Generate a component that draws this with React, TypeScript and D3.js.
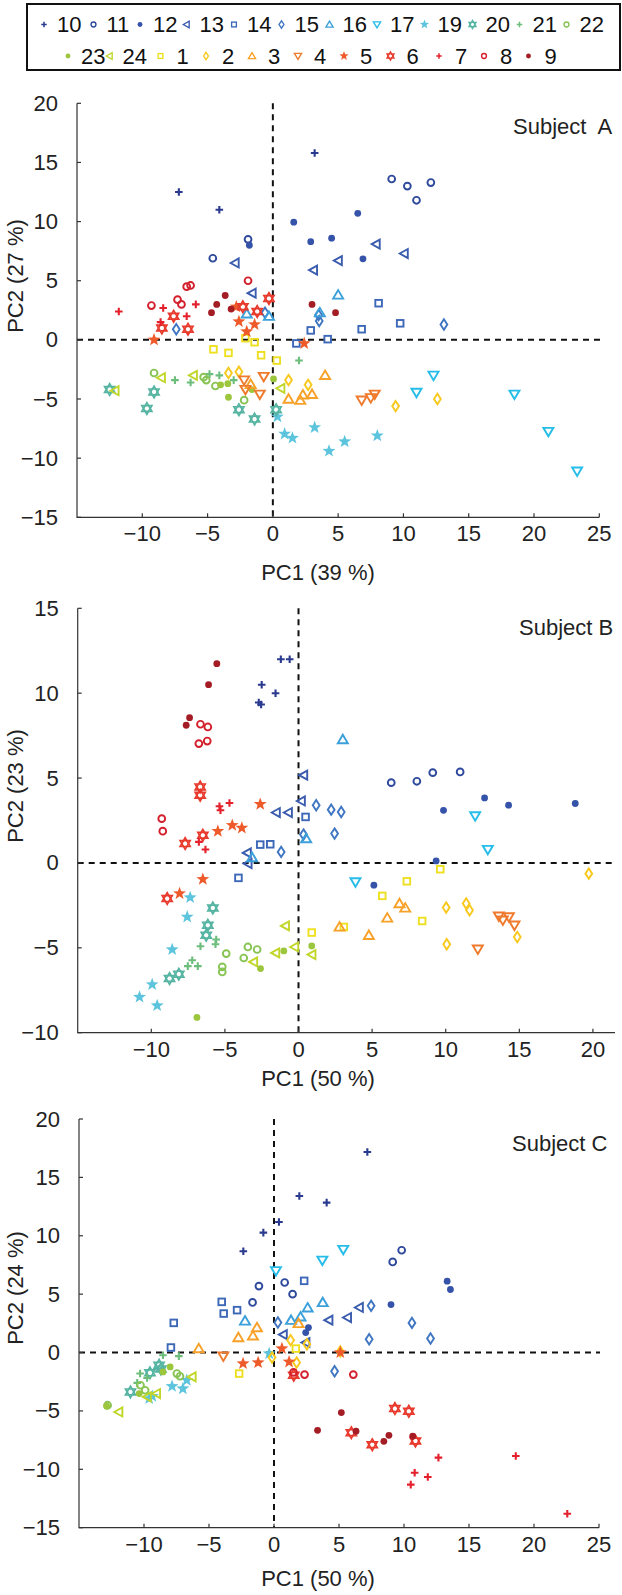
import React from "react";
import * as d3 from "d3";

// ---------- groups (legend order) ----------
const groupLabels = ["10","11","12","13","14","15","16","17","19","20","21","22","23","24","1","2","3","4","5","6","7","8","9"];
const groupShapes = ["plus","circle","dot","triLeft","square","diamond","triUp","triDown","star","hexagram",
  "plus","circle","dot","triLeft","square","diamond","triUp","triDown","star","hexagram","plus","circle","dot"];
const groupColors = ["#2a3a8f","#2f4a9c","#3553a8","#3a5cae","#3d68b8","#3f76c2","#3ba0da","#27bde9","#5cc4dc","#55b4a2",
  "#6dbd7c","#88c454","#9cc63c","#c2d62a","#eee020","#f8c81c","#f7a128","#ef7a2c","#ee5a2a","#e83a2c","#e4202c","#d4202c","#a41c24"];

// ---------- data: [group, PC1, PC2] ----------
const subjectA: [string, number, number][] = [
  ["10",-7.2,12.5],["10",-4.1,11.0],["10",3.2,15.8],
  ["11",-1.9,8.5],["11",-4.6,6.9],["11",9.1,13.6],["11",10.3,13.0],["11",12.1,13.3],["11",11.0,11.8],
  ["12",-1.8,8.0],["12",1.6,9.95],["12",2.9,8.3],["12",6.5,10.7],["12",4.5,8.6],["12",6.9,6.85],
  ["13",-2.9,6.5],["13",-1.6,3.95],["13",3.1,5.9],["13",7.9,8.1],["13",5.0,6.7],["13",10.05,7.3],
  ["14",2.9,0.8],["14",1.8,-0.3],["14",4.2,0.06],["14",6.8,0.9],["14",9.75,1.4],["14",8.1,3.1],
  ["15",-0.6,2.3],["15",-7.4,0.9],["15",3.5,2.1],["15",3.55,1.6],["15",13.1,1.3],
  ["16",-2.0,2.2],["16",-0.3,2.0],["16",5.0,3.8],["16",3.6,2.3],
  ["17",11.0,-4.45],["17",12.3,-3.0],["17",18.5,-4.6],["17",21.1,-7.75],["17",23.3,-11.1],
  ["19",0.35,-6.5],["19",0.9,-7.95],["19",1.5,-8.3],["19",3.2,-7.4],["19",4.3,-9.4],["19",5.5,-8.6],["19",8.0,-8.1],
  ["20",-12.5,-4.2],["20",-9.1,-4.4],["20",-9.65,-5.8],["20",-2.6,-5.9],["20",-1.4,-6.7],["20",0.25,-5.9],
  ["21",-7.5,-3.4],["21",-6.3,-3.6],["21",-4.85,-2.9],["21",-4.1,-3.0],["21",-3.0,-3.4],["21",2.0,-1.75],
  ["22",-9.1,-2.8],["22",-5.3,-3.15],["22",-5.1,-3.4],["22",-4.4,-3.9],["22",-2.2,-5.1],
  ["23",-4.0,-3.8],["23",-3.45,-3.7],["23",-1.6,-4.2],["23",-3.4,-4.85],["23",0.05,-3.3],
  ["24",-8.55,-3.2],["24",-6.1,-3.0],["24",-12.1,-4.3],["24",0.6,-4.1],
  ["1",-2.1,0.14],["1",-1.4,-0.2],["1",-4.55,-0.8],["1",-3.4,-1.1],["1",-0.9,-1.3],["1",0.3,-1.75],
  ["2",-3.4,-2.8],["2",-2.6,-2.7],["2",1.2,-3.4],["2",2.7,-3.8],["2",9.4,-5.6],["2",12.6,-5.0],
  ["3",-1.7,-3.75],["3",1.2,-5.0],["3",2.1,-5.1],["3",2.3,-4.65],["3",3.0,-4.6],["3",4.0,-3.0],
  ["4",-2.2,-3.4],["4",-2.1,-4.2],["4",-0.7,-3.1],["4",-1.0,-4.6],["4",6.8,-5.1],["4",7.5,-4.9],["4",7.8,-4.6],
  ["5",-9.1,0.0],["5",-2.8,2.8],["5",-2.6,1.55],["5",-1.4,1.3],["5",-2.0,0.7],["5",2.4,-0.3],
  ["6",-0.3,3.5],["6",-7.6,2.0],["6",-2.3,2.8],["6",-1.2,2.4],["6",-8.5,1.0],["6",-6.5,0.9],
  ["7",-8.4,2.7],["7",-5.9,3.0],["7",-11.8,2.4],["7",-6.6,2.0],["7",-8.6,1.5],
  ["8",-1.9,5.0],["8",-6.6,4.5],["8",-6.3,4.6],["8",-9.3,2.9],["8",-7.3,3.4],["8",-7.0,3.0],
  ["9",3.0,3.0],["9",-4.3,3.0],["9",-3.65,3.75],["9",-4.7,2.3],["9",-3.2,2.6],["9",4.8,2.3],
];

const subjectB: [string, number, number][] = [
  ["10",-1.2,12.0],["10",-0.6,12.0],["10",-2.5,10.5],["10",-1.56,10.0],["10",-2.7,9.45],["10",-2.54,9.33],
  ["11",6.3,4.73],["11",8.04,4.81],["11",9.12,5.32],["11",10.98,5.36],
  ["12",12.64,3.83],["12",9.85,3.1],["12",14.27,3.4],["12",18.8,3.5],["12",9.35,0.12],["12",5.12,-1.31],
  ["13",0.34,5.17],["13",-1.52,2.97],["13",-0.7,2.97],["13",0.18,3.65],["13",-3.49,0.59],["13",-3.44,-0.04],
  ["14",0.48,2.71],["14",-2.6,1.08],["14",-1.92,1.1],["14",-4.08,-0.88],
  ["15",1.2,3.4],["15",-1.18,0.65],["15",0.34,1.67],["15",2.22,3.14],["15",2.9,3.0],["15",2.45,1.73],
  ["16",-3.15,0.32],["16",0.52,1.44],["16",3.01,7.27],
  ["17",12.0,2.77],["17",12.86,0.79],["17",3.87,-1.12],
  ["19",-7.36,-2.04],["19",-7.56,-3.18],["19",-8.58,-5.1],["19",-9.94,-7.16],["19",-10.8,-7.9],["19",-9.6,-8.4],
  ["20",-5.82,-2.65],["20",-6.16,-3.67],["20",-6.27,-4.26],["20",-8.13,-6.55],["20",-8.76,-6.81],
  ["21",-5.59,-4.51],["21",-5.64,-4.79],["21",-6.66,-4.91],["21",-6.84,-6.08],["21",-7.22,-5.73],["21",-7.52,-6.08],
  ["22",-4.91,-5.34],["22",-3.44,-4.95],["22",-2.81,-5.1],["22",-3.72,-5.6],["22",-5.18,-6.12],["22",-5.18,-6.42],
  ["23",-2.58,-6.22],["23",-1.0,-5.18],["23",0.9,-4.89],["23",-6.9,-9.1],
  ["24",-3.06,-5.83],["24",-1.56,-5.3],["24",-0.9,-3.71],["24",-0.27,-4.95],["24",0.9,-5.4],
  ["1",0.9,-4.1],["1",9.63,-0.37],["1",7.36,-1.08],["1",5.69,-1.94],["1",8.4,-3.42],["1",3.08,-3.77],
  ["2",19.72,-0.63],["2",10.03,-2.63],["2",11.39,-2.39],["2",11.62,-2.79],["2",14.86,-4.36],["2",10.07,-4.79],
  ["3",6.86,-2.39],["3",7.25,-2.65],["3",6.03,-3.24],["3",2.79,-3.77],["3",4.78,-4.26],
  ["4",13.61,-3.14],["4",13.88,-3.37],["4",14.29,-3.18],["4",14.67,-3.67],["4",12.18,-5.08],
  ["5",-2.6,3.46],["5",-5.48,1.87],["5",-4.5,2.22],["5",-3.85,2.06],["5",-6.5,-0.96],["5",-8.08,-1.8],
  ["6",-6.68,4.48],["6",-6.68,3.99],["6",-6.5,1.63],["6",-7.7,1.14],["6",-8.92,-2.1],
  ["7",-5.37,3.34],["7",-5.3,3.1],["7",-4.69,3.53],["7",-6.77,1.24],["7",-6.32,0.79],
  ["8",-6.66,8.17],["8",-6.16,8.01],["8",-6.77,7.03],["8",-6.2,7.18],["8",-9.29,2.61],["8",-9.22,1.87],
  ["9",-5.55,11.74],["9",-6.11,10.5],["9",-7.4,8.56],["9",-7.63,8.11],
];

const subjectC: [string, number, number][] = [
  ["10",7.18,17.17],["10",1.95,13.41],["10",0.38,11.18],["10",-0.82,10.27],["10",-2.36,8.67],["10",4.05,12.84],
  ["11",9.82,8.76],["11",9.13,7.76],["11",-1.16,5.69],["11",0.82,6.0],["11",1.43,5.0],["11",-1.65,4.29],
  ["12",9.0,4.11],["12",13.32,6.11],["12",13.57,5.4],["12",2.44,1.71],["12",2.65,2.14],
  ["13",6.55,3.86],["13",5.64,3.0],["13",4.21,2.77],["13",0.7,1.54],["13",2.44,0.86],
  ["14",2.32,6.14],["14",-4.02,4.34],["14",-3.87,3.34],["14",-2.84,3.63],["14",-7.71,2.54],["14",-7.93,0.43],
  ["15",0.3,2.57],["15",7.47,4.0],["15",10.61,2.54],["15",12.04,1.2],["15",7.32,1.14],["15",4.66,-1.6],
  ["16",-2.23,2.71],["16",1.31,2.77],["16",2.04,3.06],["16",2.59,3.83],["16",3.75,4.29],
  ["17",0.15,7.0],["17",5.33,8.82],["17",3.72,7.9],
  ["19",-0.37,-0.09],["19",-7.84,-2.89],["19",-7.01,-3.09],["19",-9.6,-3.94],["19",-9.36,-3.74],["19",-6.71,-2.37],
  ["20",-8.84,-1.09],["20",-9.54,-1.74],["20",-11.04,-3.37],["20",-8.7,-1.4],
  ["21",-8.54,-0.23],["21",-7.32,-0.31],["21",-10.3,-1.8],["21",-9.76,-2.17],["21",-10.52,-2.6],
  ["22",-7.47,-1.8],["22",-7.23,-2.03],["22",-9.91,-3.23],["22",-10.27,-2.8],["22",-12.8,-4.51],
  ["23",-7.99,-1.23],["23",-8.54,-1.66],["23",-12.87,-4.6],["23",-10.37,-3.51],
  ["24",-6.31,-2.09],["24",-9.05,-3.51],["24",-9.76,-3.8],["24",-11.95,-5.09],
  ["1",1.68,0.34],["1",-2.68,-1.8],
  ["2",1.28,1.06],["2",2.53,0.71],["2",1.74,-0.86],["2",-0.15,-0.43],["2",5.1,0.1],
  ["3",-1.31,2.14],["3",-1.62,1.43],["3",-2.74,1.29],["3",-5.79,0.34],["3",1.89,2.49],
  ["4",-3.9,-0.31],
  ["5",0.61,0.34],["5",-2.38,-0.94],["5",-1.22,-0.86],["5",1.16,-0.8],["5",5.1,0.0],
  ["6",1.52,-1.94],["6",5.95,-6.86],["6",9.3,-4.8],["6",10.37,-5.03],["6",7.56,-7.89],["6",10.88,-7.57],
  ["7",12.65,-9.0],["7",10.82,-10.29],["7",11.83,-10.66],["7",10.52,-11.31],["7",18.6,-8.86],["7",22.56,-13.8],
  ["8",2.35,-1.89],["8",6.1,-1.89],["8",1.5,-1.7],
  ["9",5.18,-5.14],["9",3.35,-6.66],["9",6.31,-6.74],["9",8.45,-7.6],["9",8.84,-7.09],["9",10.67,-7.17],
];

// ---------- axes ----------
const ticksAx = [-10,-5,0,5,10,15,20,25];
const ticksAy = [-15,-10,-5,0,5,10,15,20];
const ticksBx = [-10,-5,0,5,10,15,20];
const ticksBy = [-10,-5,0,5,10,15];
const ticksCx = [-10,-5,0,5,10,15,20,25];
const ticksCy = [-15,-10,-5,0,5,10,15,20];

const FONT = "'Liberation Sans', Arial, Helvetica, sans-serif";

function fmt(v: number) { return v < 0 ? "\u2212" + Math.abs(v) : String(v); }

function Marker({ shape, x, y, color, s = 1 }: { shape: string; x: number; y: number; color: string; s?: number }) {
  const sw = 1.9 * s;
  const t = `translate(${x},${y})`;
  const pts = (arr: number[][]) => arr.map(p => `${p[0] * s},${p[1] * s}`).join(" ");
  switch (shape) {
    case "plus": {
      const a = 3.8 * s;
      return <path transform={t} d={`M${-a},0H${a}M0,${-a}V${a}`} stroke={color} strokeWidth={2.1 * s} fill="none" />;
    }
    case "circle":
      return <circle cx={x} cy={y} r={3.4 * s} stroke={color} strokeWidth={sw} fill="none" />;
    case "dot":
      return <circle cx={x} cy={y} r={3.4 * s} fill={color} />;
    case "triLeft":
      return <polygon transform={t} points={pts([[-4.4, 0], [3.7, -4.5], [3.7, 4.5]])} stroke={color} strokeWidth={sw} fill="none" />;
    case "square":
      return <rect x={x - 3.3 * s} y={y - 3.3 * s} width={6.6 * s} height={6.6 * s} stroke={color} strokeWidth={sw} fill="none" />;
    case "diamond":
      return <polygon transform={t} points={pts([[0, -5.2], [3.4, 0], [0, 5.2], [-3.4, 0]])} stroke={color} strokeWidth={sw} fill="none" />;
    case "triUp":
      return <polygon transform={t} points={pts([[0, -4.8], [5, 3.7], [-5, 3.7]])} stroke={color} strokeWidth={sw} fill="none" />;
    case "triDown":
      return <polygon transform={t} points={pts([[0, 4.8], [5, -3.7], [-5, -3.7]])} stroke={color} strokeWidth={sw} fill="none" />;
    case "star": {
      const p: number[][] = [];
      for (let i = 0; i < 10; i++) {
        const r = i % 2 === 0 ? 6.8 : 2.8;
        const a = -Math.PI / 2 + (i * Math.PI) / 5;
        p.push([r * Math.cos(a), r * Math.sin(a)]);
      }
      return <polygon transform={t} points={pts(p)} fill={color} />;
    }
    case "hexagram": {
      const r = 5.8;
      const up = [[0, -r], [r * 0.866, r / 2], [-r * 0.866, r / 2]];
      const dn = [[0, r], [r * 0.866, -r / 2], [-r * 0.866, -r / 2]];
      return (
        <g>
          <polygon transform={t} points={pts(up)} stroke={color} strokeWidth={1.7 * s} fill="none" />
          <polygon transform={t} points={pts(dn)} stroke={color} strokeWidth={1.7 * s} fill="none" />
        </g>
      );
    }
  }
  return null;
}

type PanelCfg = {
  data: [string, number, number][];
  xDomain: [number, number]; xRange: [number, number];
  yDomain: [number, number]; yRange: [number, number];
  xTicks: number[]; yTicks: number[];
  hEnd: number;
  title: string; titleX: number; titleY: number;
  xLabel: string; xLabelY: number;
  yLabel: string; yLabelC: number;
};

function Panel(c: PanelCfg) {
  const x = d3.scaleLinear().domain(c.xDomain).range(c.xRange);
  const y = d3.scaleLinear().domain(c.yDomain).range(c.yRange);
  const x0 = c.xRange[0], x1 = c.xRange[1];
  const yb = c.yRange[0], yt = c.yRange[1];
  const axisColor = "#333";
  const order = new Map(groupLabels.map((g, i) => [g, i]));
  const sorted = [...c.data].sort((a, b) => (order.get(a[0])! - order.get(b[0])!));
  return (
    <g>
      <line x1={x(0)} x2={x(0)} y1={yt} y2={yb} stroke="#111" strokeWidth={2} strokeDasharray="6,5" />
      <line x1={x0} x2={c.hEnd} y1={y(0)} y2={y(0)} stroke="#111" strokeWidth={2} strokeDasharray="6,5" />
      <path d={`M${x0},${yt}V${yb}H${x1}`} stroke={axisColor} strokeWidth={1.2} fill="none" />
      {c.yTicks.map(v => (
        <g key={"y" + v}>
          <line x1={x0} x2={x0 + 4} y1={y(v)} y2={y(v)} stroke={axisColor} strokeWidth={1.2} />
          <text x={x0 - 19} y={y(v) + 7.5} textAnchor="end" fontSize={22} fill="#222" fontFamily={FONT}>{fmt(v)}</text>
        </g>
      ))}
      {c.xTicks.map(v => (
        <g key={"x" + v}>
          <line x1={x(v)} x2={x(v)} y1={yb} y2={yb - 4} stroke={axisColor} strokeWidth={1.2} />
          <text x={x(v)} y={yb + 24} textAnchor="middle" fontSize={22} fill="#222" fontFamily={FONT}>{fmt(v)}</text>
        </g>
      ))}
      {sorted.map((d, i) => {
        const gi = order.get(d[0])!;
        return <Marker key={i} shape={groupShapes[gi]} color={groupColors[gi]} x={x(d[1])} y={y(d[2])} />;
      })}
      <text x={c.titleX} y={c.titleY} fontSize={22} fill="#222" fontFamily={FONT} style={{ whiteSpace: "pre" }}>{c.title}</text>
      <text x={318} y={c.xLabelY} textAnchor="middle" fontSize={22} fill="#222" fontFamily={FONT}>{c.xLabel}</text>
      <text transform={`translate(23,${c.yLabelC}) rotate(-90)`} textAnchor="middle" fontSize={22} fill="#222" fontFamily={FONT}>{c.yLabel}</text>
    </g>
  );
}

const legendRow1X = [44, 93.5, 140, 186.5, 234, 281.5, 329.5, 377, 424.5, 472.5, 519.5, 566.5];
const legendRow2X = [68, 109.5, 160.5, 206, 252, 298, 344, 390.5, 439, 484, 528.5];

function Legend() {
  const items = groupLabels.map((g, i) => {
    const row = i < 12 ? 0 : 1;
    const mx = row === 0 ? legendRow1X[i] : legendRow2X[i - 12];
    const my = row === 0 ? 24.5 : 56;
    const ty = row === 0 ? 32 : 63.5;
    const tx = mx + (g.length === 1 ? 16 : 13);
    return (
      <g key={g}>
        <Marker shape={groupShapes[i]} color={groupColors[i]} x={mx} y={my} s={0.72} />
        <text x={tx} y={ty} fontSize={22} fill="#111" fontFamily={FONT}>{g}</text>
      </g>
    );
  });
  return (
    <g>
      <rect x={27} y={4} width={593} height={66} fill="white" stroke="#111" strokeWidth={2} />
      {items}
    </g>
  );
}

export default function App() {
  return (
    <svg width={622} height={1595} style={{ position: "absolute", left: 0, top: 0, background: "white" }}>
      <Legend />
      <Panel data={subjectA} xDomain={[-15, 25]} xRange={[77, 599.3]} yDomain={[-15, 20]} yRange={[517.3, 103.3]}
        xTicks={ticksAx} yTicks={ticksAy} hEnd={601} title={"Subject  A"} titleX={513} titleY={134}
        xLabel="PC1 (39 %)" xLabelY={580} yLabel="PC2 (27 %)" yLabelC={276} />
      <Panel data={subjectB} xDomain={[-15, 21.5]} xRange={[77.7, 615]} yDomain={[-10, 15]} yRange={[1032.7, 608.3]}
        xTicks={ticksBx} yTicks={ticksBy} hEnd={615} title="Subject B" titleX={519} titleY={635}
        xLabel="PC1 (50 %)" xLabelY={1086} yLabel="PC2 (23 %)" yLabelC={786} />
      <Panel data={subjectC} xDomain={[-15, 25]} xRange={[79, 599]} yDomain={[-15, 20]} yRange={[1527.7, 1119]}
        xTicks={ticksCx} yTicks={ticksCy} hEnd={600} title="Subject C" titleX={512} titleY={1151}
        xLabel="PC1 (50 %)" xLabelY={1586} yLabel="PC2 (24 %)" yLabelC={1288} />
    </svg>
  );
}
